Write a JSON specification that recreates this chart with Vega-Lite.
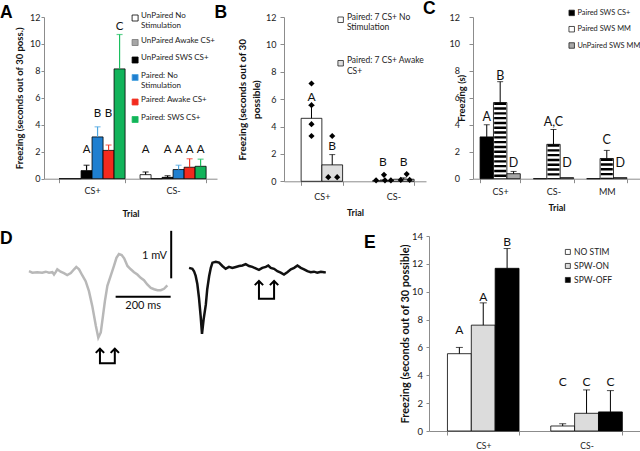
{
  "$schema": "https://vega.github.io/schema/vega-lite/v6.json",
  "padding": 0,
  "background": "white",
  "config": {
    "view": {"stroke": null},
    "font": "Lato",
    "axis": {"grid": false, "domainColor": "#8c8c8c", "tickColor": "#8c8c8c", "labelColor": "#222", "labelFont": "Lato", "labelFontSize": 9, "titleFont": "Lato", "titleFontWeight": "bold", "titleColor": "#111", "titleFontSize": 9.5},
    "legend": {"title": null, "symbolType": "square", "symbolStrokeColor": "#222", "symbolStrokeWidth": 0.8, "labelFont": "Lato", "labelColor": "#222", "padding": 0, "labelOffset": 2},
    "title": {"font": "Liberation Sans", "fontSize": 17.5, "fontWeight": "bold", "anchor": "start", "frame": "group", "color": "black"},
    "text": {"font": "Lato"}
  },
  "datasets": {
    "panelA": [
      {"trial": "CS+", "group": "UnPaired No Stimulation", "value": 0},
      {"trial": "CS+", "group": "UnPaired Awake CS+", "value": 0},
      {"trial": "CS+", "group": "UnPaired SWS CS+", "value": 0.6, "err": 1.0, "ly": 1.94, "letter": "A"},
      {"trial": "CS+", "group": "Paired: No Stimulation", "value": 3.1, "err": 3.85, "ly": 4.58, "letter": "B"},
      {"trial": "CS+", "group": "Paired: Awake CS+", "value": 2.1, "err": 2.5, "ly": 4.58, "letter": "B"},
      {"trial": "CS+", "group": "Paired: SWS CS+", "value": 8.15, "err": 10.7, "ly": 11.0, "letter": "C"},
      {"trial": "CS-", "group": "UnPaired No Stimulation", "value": 0.3, "err": 0.5, "ly": 1.94, "letter": "A"},
      {"trial": "CS-", "group": "UnPaired Awake CS+", "value": 0},
      {"trial": "CS-", "group": "UnPaired SWS CS+", "value": 0.1, "err": 0.22, "ly": 1.94, "letter": "A"},
      {"trial": "CS-", "group": "Paired: No Stimulation", "value": 0.68, "err": 1.0, "ly": 1.94, "letter": "A"},
      {"trial": "CS-", "group": "Paired: Awake CS+", "value": 0.85, "err": 1.48, "ly": 1.94, "letter": "A"},
      {"trial": "CS-", "group": "Paired: SWS CS+", "value": 0.92, "err": 1.45, "ly": 1.94, "letter": "A"}
    ],
    "panelB": [
      {"trial": "CS+", "group": "Paired: 7 CS+ No Stimulation", "value": 4.6, "err": 5.55, "ly": 5.85, "letter": "A"},
      {"trial": "CS+", "group": "Paired: 7 CS+ Awake CS+", "value": 1.2, "err": 1.95, "ly": 2.31, "letter": "B"},
      {"trial": "CS-", "group": "Paired: 7 CS+ No Stimulation", "value": 0.05, "err": 0.1, "ly": 1.12, "letter": "B"},
      {"trial": "CS-", "group": "Paired: 7 CS+ Awake CS+", "value": 0.15, "err": 0.25, "ly": 1.12, "letter": "B"}
    ],
    "panelBpts": [
      {"trial": "CS+", "slot": 10, "value": 7.14},
      {"trial": "CS+", "slot": 10, "value": 5.56},
      {"trial": "CS+", "slot": 10, "value": 4.17},
      {"trial": "CS+", "slot": 10, "value": 3.31},
      {"trial": "CS+", "slot": 31, "value": 3.31},
      {"trial": "CS+", "slot": 27, "value": 0.3},
      {"trial": "CS+", "slot": 36, "value": 0.3},
      {"trial": "CS-", "slot": 3, "value": 0.07},
      {"trial": "CS-", "slot": 11, "value": 0.47},
      {"trial": "CS-", "slot": 12, "value": 0.07},
      {"trial": "CS-", "slot": 18, "value": 0.07},
      {"trial": "CS-", "slot": 28, "value": 0.1},
      {"trial": "CS-", "slot": 34, "value": 0.53},
      {"trial": "CS-", "slot": 37, "value": 0.1}
    ],
    "panelC": [
      {"trial": "CS+", "group": "Paired SWS CS+", "value": 3.1, "err": 4.0, "ly": 4.26, "letter": "A"},
      {"trial": "CS+", "group": "Paired SWS MM", "value": 5.65, "err": 7.2, "ly": 7.3, "letter": "B"},
      {"trial": "CS+", "group": "UnPaired SWS MM", "value": 0.37, "err": 0.54, "ly": 0.9, "letter": "D"},
      {"trial": "CS-", "group": "Paired SWS CS+", "value": 0},
      {"trial": "CS-", "group": "Paired SWS MM", "value": 2.55, "err": 3.65, "ly": 3.94, "letter": "A,C"},
      {"trial": "CS-", "group": "UnPaired SWS MM", "value": 0.08, "ly": 0.9, "letter": "D"},
      {"trial": "MM", "group": "Paired SWS CS+", "value": 0},
      {"trial": "MM", "group": "Paired SWS MM", "value": 1.5, "err": 2.1, "ly": 2.55, "letter": "C"},
      {"trial": "MM", "group": "UnPaired SWS MM", "value": 0.08, "ly": 0.9, "letter": "D"}
    ],
    "panelE": [
      {"trial": "CS+", "group": "NO STIM", "value": 5.55, "err": 6.0, "ly": 6.94, "letter": "A"},
      {"trial": "CS+", "group": "SPW-ON", "value": 7.6, "err": 9.2, "ly": 9.33, "letter": "A"},
      {"trial": "CS+", "group": "SPW-OFF", "value": 11.68, "err": 13.1, "ly": 13.28, "letter": "B"},
      {"trial": "CS-", "group": "NO STIM", "value": 0.36, "err": 0.52, "ly": 3.2, "letter": "C"},
      {"trial": "CS-", "group": "SPW-ON", "value": 1.27, "err": 2.95, "ly": 3.2, "letter": "C"},
      {"trial": "CS-", "group": "SPW-OFF", "value": 1.37, "err": 2.9, "ly": 3.2, "letter": "C"}
    ],
    "grayTrace": [
      {"t": 109, "v": 2.08}, {"t": 121, "v": 2.05}, {"t": 139, "v": 2.06}, {"t": 157, "v": 2.05},
      {"t": 170, "v": 2.07}, {"t": 182, "v": 2.05}, {"t": 194, "v": 2.06}, {"t": 200, "v": 2.01},
      {"t": 206, "v": 2.06}, {"t": 212, "v": 2.12}, {"t": 224, "v": 2.07}, {"t": 236, "v": 2.04},
      {"t": 248, "v": 2.0}, {"t": 261, "v": 2.04}, {"t": 273, "v": 2.12}, {"t": 281, "v": 2.17},
      {"t": 291, "v": 2.12}, {"t": 303, "v": 1.99}, {"t": 315, "v": 1.87}, {"t": 327, "v": 1.66},
      {"t": 339, "v": 1.35}, {"t": 352, "v": 0.93}, {"t": 361, "v": 0.68}, {"t": 370, "v": 0.79},
      {"t": 378, "v": 1.14}, {"t": 385, "v": 1.45}, {"t": 394, "v": 1.77}, {"t": 406, "v": 1.98},
      {"t": 418, "v": 2.19}, {"t": 427, "v": 2.36}, {"t": 436, "v": 2.44}, {"t": 446, "v": 2.42},
      {"t": 455, "v": 2.35}, {"t": 467, "v": 2.19}, {"t": 479, "v": 2.12}, {"t": 491, "v": 2.06},
      {"t": 503, "v": 2.01}, {"t": 515, "v": 1.94}, {"t": 527, "v": 1.89}, {"t": 539, "v": 1.8},
      {"t": 552, "v": 1.73}, {"t": 564, "v": 1.7}, {"t": 576, "v": 1.68}, {"t": 588, "v": 1.68},
      {"t": 600, "v": 1.71}, {"t": 612, "v": 1.78}
    ],
    "blackTrace": [
      {"t": 691, "v": 2.15}, {"t": 703, "v": 2.13}, {"t": 709, "v": 2.08}, {"t": 715, "v": 1.98},
      {"t": 721, "v": 1.81}, {"t": 727, "v": 1.52}, {"t": 733, "v": 1.14}, {"t": 738, "v": 0.76},
      {"t": 744, "v": 1.07}, {"t": 752, "v": 1.38}, {"t": 757, "v": 1.7}, {"t": 764, "v": 1.98},
      {"t": 770, "v": 2.15}, {"t": 776, "v": 2.26}, {"t": 788, "v": 2.28}, {"t": 800, "v": 2.26},
      {"t": 812, "v": 2.19}, {"t": 824, "v": 2.13}, {"t": 836, "v": 2.17}, {"t": 848, "v": 2.15},
      {"t": 861, "v": 2.17}, {"t": 873, "v": 2.19}, {"t": 885, "v": 2.2}, {"t": 897, "v": 2.23},
      {"t": 909, "v": 2.19}, {"t": 921, "v": 2.17}, {"t": 933, "v": 2.14}, {"t": 945, "v": 2.11},
      {"t": 957, "v": 2.15}, {"t": 970, "v": 2.17}, {"t": 979, "v": 2.2}, {"t": 988, "v": 2.15},
      {"t": 1000, "v": 2.13}, {"t": 1012, "v": 2.08}, {"t": 1024, "v": 2.05}, {"t": 1036, "v": 2.01},
      {"t": 1048, "v": 2.06}, {"t": 1061, "v": 2.12}, {"t": 1073, "v": 2.15}, {"t": 1085, "v": 2.2},
      {"t": 1097, "v": 2.15}, {"t": 1109, "v": 2.12}, {"t": 1121, "v": 2.08}, {"t": 1133, "v": 2.06},
      {"t": 1145, "v": 2.07}, {"t": 1157, "v": 2.05}, {"t": 1170, "v": 2.07}, {"t": 1182, "v": 2.06},
      {"t": 1188, "v": 2.05}
    ],
    "scaleBars": [
      {"bar": "1 mV", "t": 626, "t2": 626, "v": 1.93, "v2": 2.93},
      {"bar": "200 ms", "t": 424, "t2": 624, "v": 1.54, "v2": 1.54}
    ],
    "scaleText": [
      {"label": "1 mV", "t": 565, "v": 2.4},
      {"label": "200 ms", "t": 524, "v": 1.35}
    ],
    "arrows": [
      {"arrow": "gray", "order": 1, "head": true, "t": 367, "v": 0.448},
      {"arrow": "gray", "order": 2, "head": false, "t": 367, "v": 0.141},
      {"arrow": "gray", "order": 3, "head": false, "t": 421, "v": 0.141},
      {"arrow": "gray", "order": 4, "head": true, "t": 421, "v": 0.448},
      {"arrow": "black", "order": 1, "head": true, "t": 945, "v": 1.874},
      {"arrow": "black", "order": 2, "head": false, "t": 945, "v": 1.5},
      {"arrow": "black", "order": 3, "head": false, "t": 1000, "v": 1.5},
      {"arrow": "black", "order": 4, "head": true, "t": 1000, "v": 1.874}
    ]
  },
  "resolve": {
    "scale": {"x": "independent", "y": "independent", "xOffset": "independent", "color": "independent", "stroke": "independent", "fill": "independent"},
    "legend": {"color": "independent"}
  },
  "vconcat": [
    {
      "resolve": {
        "scale": {"x": "independent", "y": "independent", "xOffset": "independent", "color": "independent", "stroke": "independent", "fill": "independent"},
        "legend": {"color": "independent"}
      },
      "hconcat": [
        {
          "width": 173,
          "height": 161.7,
          "title": {"text": "A", "dx": -44, "offset": -8.5},
          "data": {"name": "panelA"},
          "encoding": {
            "x": {"field": "trial", "type": "nominal", "sort": ["CS+", "CS-"],
              "scale": {"paddingInner": 0.185, "paddingOuter": 0.16, "align": 0.58},
              "axis": {"title": "Trial", "labelAngle": 0, "tickBand": "extent", "tickSize": 4, "labelPadding": 4, "titlePadding": 14, "titleFontSize": 9}},
            "xOffset": {"field": "group", "type": "nominal",
              "scale": {"domain": ["UnPaired No Stimulation", "UnPaired Awake CS+", "UnPaired SWS CS+", "Paired: No Stimulation", "Paired: Awake CS+", "Paired: SWS CS+"]}},
            "y": {"field": "value", "type": "quantitative", "scale": {"domain": [0, 12]},
              "axis": {"title": "Freezing (seconds out of 30 poss.)", "values": [0, 2, 4, 6, 8, 10, 12], "tickSize": 3, "labelPadding": 1, "titlePadding": 5}}
          },
          "layer": [
            {
              "mark": {"type": "bar", "stroke": "black", "strokeWidth": 0.8},
              "encoding": {
                "color": {"field": "group", "type": "nominal",
                  "scale": {"domain": ["UnPaired No Stimulation", "UnPaired Awake CS+", "UnPaired SWS CS+", "Paired: No Stimulation", "Paired: Awake CS+", "Paired: SWS CS+"],
                    "range": ["white", "#a6a6a6", "black", "#1f7fd0", "#f42a1e", "#12b35a"]},
                  "legend": {"orient": "none", "legendX": 87.1, "legendY": -3, "symbolSize": 36, "labelFontSize": 8, "rowPadding": 6.5, "labelBaseline": "alphabetic",
                    "labelExpr": "datum.label == 'UnPaired No Stimulation' ? ['UnPaired No', 'Stimulation'] : datum.label == 'Paired: No Stimulation' ? ['Paired: No', 'Stimulation'] : datum.label"}}
              }
            },
            {
              "transform": [{"filter": "isValid(datum.err)"}],
              "mark": {"type": "rule", "strokeWidth": 1.2},
              "encoding": {
                "y2": {"field": "err"},
                "stroke": {"field": "group", "type": "nominal", "legend": null,
                  "scale": {"domain": ["UnPaired No Stimulation", "UnPaired Awake CS+", "UnPaired SWS CS+", "Paired: No Stimulation", "Paired: Awake CS+", "Paired: SWS CS+"],
                    "range": ["black", "#777777", "black", "#4ea6e0", "#f03a2a", "#1cbf60"]}}
              }
            },
            {
              "transform": [{"filter": "isValid(datum.err)"}],
              "mark": {"type": "tick", "thickness": 1.2, "size": 6},
              "encoding": {
                "y": {"field": "err", "type": "quantitative", "title": "Freezing (seconds out of 30 poss.)"},
                "fill": {"field": "group", "type": "nominal", "legend": null,
                  "scale": {"domain": ["UnPaired No Stimulation", "UnPaired Awake CS+", "UnPaired SWS CS+", "Paired: No Stimulation", "Paired: Awake CS+", "Paired: SWS CS+"],
                    "range": ["black", "#777777", "black", "#4ea6e0", "#f03a2a", "#1cbf60"]}}
              }
            },
            {
              "transform": [{"filter": "isValid(datum.letter)"}],
              "mark": {"type": "text", "fontSize": 11.5, "baseline": "alphabetic", "color": "#111"},
              "encoding": {
                "y": {"field": "ly", "type": "quantitative", "title": "Freezing (seconds out of 30 poss.)"},
                "text": {"field": "letter"}
              }
            }
          ]
        },
        {
          "width": 142,
          "height": 164.3,
          "title": {"text": "B", "dx": -69.5, "offset": -8.5},
          "data": {"name": "panelB"},
          "resolve": {"scale": {"xOffset": "independent"}},
          "encoding": {
            "x": {"field": "trial", "type": "nominal", "sort": ["CS+", "CS-"],
              "scale": {"paddingInner": 0.42, "paddingOuter": 0.203, "align": 0.59},
              "axis": {"title": "Trial", "labelAngle": 0, "tickBand": "extent", "tickSize": 4, "labelPadding": 7, "titlePadding": 6.7, "titleFontSize": 9}},
            "y": {"field": "value", "type": "quantitative", "scale": {"domain": [0, 12]},
              "axis": {"title": ["Freezing  (seconds out of 30", "possible)"], "titleLineHeight": 14, "titleFontSize": 10, "values": [0, 2, 4, 6, 8, 10, 12], "tickSize": 4, "labelPadding": 4, "titlePadding": 4}}
          },
          "layer": [
            {
              "mark": {"type": "bar", "stroke": "black", "strokeWidth": 0.8},
              "encoding": {
                "xOffset": {"field": "group", "type": "nominal", "scale": {"domain": ["Paired: 7 CS+ No Stimulation", "Paired: 7 CS+ Awake CS+"]}},
                "color": {"field": "group", "type": "nominal",
                  "scale": {"domain": ["Paired: 7 CS+ No Stimulation", "Paired: 7 CS+ Awake CS+"], "range": ["white", "#dedede"]},
                  "legend": {"orient": "none", "legendX": 52.4, "legendY": -1.5, "symbolSize": 30, "labelFontSize": 8.5, "rowPadding": 23.5, "labelBaseline": "alphabetic",
                    "labelExpr": "datum.label == 'Paired: 7 CS+ No Stimulation' ? ['Paired: 7 CS+ No', 'Stimulation'] : ['Paired: 7 CS+ Awake', 'CS+']"}}
              }
            },
            {
              "mark": {"type": "rule", "strokeWidth": 1, "color": "black"},
              "encoding": {
                "xOffset": {"field": "group", "type": "nominal", "scale": {"domain": ["Paired: 7 CS+ No Stimulation", "Paired: 7 CS+ Awake CS+"]}},
                "y2": {"field": "err"}
              }
            },
            {
              "mark": {"type": "tick", "thickness": 1, "size": 6, "color": "black"},
              "encoding": {
                "xOffset": {"field": "group", "type": "nominal", "scale": {"domain": ["Paired: 7 CS+ No Stimulation", "Paired: 7 CS+ Awake CS+"]}},
                "y": {"field": "err", "type": "quantitative", "title": ["Freezing  (seconds out of 30", "possible)"]}
              }
            },
            {
              "data": {"name": "panelBpts"},
              "mark": {"type": "point", "shape": "diamond", "filled": true, "color": "black", "size": 38, "opacity": 1},
              "encoding": {
                "xOffset": {"field": "slot", "type": "ordinal", "scale": {"domain": [0, 1, 2, 3, 4, 5, 6, 7, 8, 9, 10, 11, 12, 13, 14, 15, 16, 17, 18, 19, 20, 21, 22, 23, 24, 25, 26, 27, 28, 29, 30, 31, 32, 33, 34, 35, 36, 37, 38, 39, 40, 41]}}
              }
            },
            {
              "mark": {"type": "text", "fontSize": 12, "baseline": "alphabetic", "color": "#111"},
              "encoding": {
                "xOffset": {"field": "group", "type": "nominal", "scale": {"domain": ["Paired: 7 CS+ No Stimulation", "Paired: 7 CS+ Awake CS+"]}},
                "y": {"field": "ly", "type": "quantitative", "title": ["Freezing  (seconds out of 30", "possible)"]},
                "text": {"field": "letter"}
              }
            }
          ]
        },
        {
          "width": 167,
          "height": 161.7,
          "title": {"text": "C", "dx": -50, "offset": -8.5},
          "data": {"name": "panelC"},
          "encoding": {
            "x": {"field": "trial", "type": "nominal", "sort": ["CS+", "CS-", "MM"],
              "scale": {"paddingInner": 0.245, "paddingOuter": 0.189, "align": 0.35},
              "axis": {"title": "Trial", "labelAngle": 0, "tickBand": "extent", "tickSize": 4, "labelPadding": 4.5, "titlePadding": 7.3, "titleFontSize": 9}},
            "xOffset": {"field": "group", "type": "nominal", "scale": {"domain": ["Paired SWS CS+", "Paired SWS MM", "UnPaired SWS MM"]}},
            "y": {"field": "value", "type": "quantitative", "scale": {"domain": [0, 12]},
              "axis": {"title": "Freezing (s)", "values": [0, 2, 4, 6, 8, 10, 12], "tickSize": 4, "labelPadding": 9.5, "titlePadding": -17.5}}
          },
          "layer": [
            {
              "mark": {"type": "bar", "stroke": "black", "strokeWidth": 0.8},
              "encoding": {
                "color": {"field": "group", "type": "nominal",
                  "scale": {"domain": ["Paired SWS CS+", "Paired SWS MM", "UnPaired SWS MM"], "range": ["black", "white", "#a8a8a8"]},
                  "legend": {"orient": "none", "legendX": 95, "legendY": -7.8, "symbolSize": 30, "labelFontSize": 7.4, "rowPadding": 6.3}}
              }
            },
            {
              "transform": [{"filter": "datum.group == 'Paired SWS MM'"}],
              "mark": {"type": "rule", "strokeWidth": 12, "color": "black", "strokeCap": "butt", "strokeDash": [2.4, 2.4]},
              "encoding": {"y2": {"datum": 0}}
            },
            {
              "transform": [{"filter": "isValid(datum.err)"}],
              "mark": {"type": "rule", "strokeWidth": 1, "color": "black"},
              "encoding": {"y2": {"field": "err"}}
            },
            {
              "transform": [{"filter": "isValid(datum.err)"}],
              "mark": {"type": "tick", "thickness": 1, "size": 6, "color": "black"},
              "encoding": {"y": {"field": "err", "type": "quantitative", "title": "Freezing (s)"}}
            },
            {
              "transform": [{"filter": "isValid(datum.letter)"}],
              "mark": {"type": "text", "fontSize": 12.5, "baseline": "alphabetic", "color": "#111"},
              "encoding": {
                "y": {"field": "ly", "type": "quantitative", "title": "Freezing (s)"},
                "text": {"field": "letter"}
              }
            }
          ]
        }
      ],
      "spacing": -3
    },
    {
      "resolve": {
        "scale": {"x": "independent", "y": "independent", "xOffset": "independent", "color": "independent", "stroke": "independent", "fill": "independent"},
        "legend": {"color": "independent"}
      },
      "hconcat": [
        {
          "width": 295,
          "height": 134,
          "title": {"text": "D", "dx": -44, "offset": -17.3},
          "encoding": {
            "x": {"field": "t", "type": "quantitative", "scale": {"domain": [163.6, 1236], "nice": false, "zero": false}, "axis": null},
            "y": {"field": "v", "type": "quantitative", "scale": {"domain": [0, 2.821], "nice": false, "zero": false}, "axis": null}
          },
          "layer": [
            {
              "data": {"name": "grayTrace"},
              "mark": {"type": "line", "color": "#b8b8b8", "strokeWidth": 2.5}
            },
            {
              "data": {"name": "blackTrace"},
              "mark": {"type": "line", "color": "#111", "strokeWidth": 2.5}
            },
            {
              "data": {"name": "scaleBars"},
              "mark": {"type": "rule", "color": "black", "strokeWidth": 2},
              "encoding": {"x2": {"field": "t2"}, "y2": {"field": "v2"}}
            },
            {
              "data": {"name": "arrows"},
              "mark": {"type": "line", "color": "black", "strokeWidth": 2, "strokeJoin": "miter"},
              "encoding": {"detail": {"field": "arrow"}, "order": {"field": "order"}}
            },
            {
              "data": {"name": "arrows"},
              "transform": [{"filter": "datum.head"}],
              "mark": {"type": "point", "shape": "M-1,1L0,0L1,1", "filled": false, "color": "black", "strokeWidth": 2, "size": 70, "opacity": 1}
            },
            {
              "data": {"name": "scaleText"},
              "mark": {"type": "text", "fontSize": 11, "align": "center", "baseline": "middle", "color": "#111"},
              "encoding": {"text": {"field": "label"}}
            }
          ]
        },
        {
          "width": 215,
          "height": 195,
          "title": {"text": "E", "dx": -65, "offset": -20.7},
          "data": {"name": "panelE"},
          "encoding": {
            "x": {"field": "trial", "type": "nominal", "sort": ["CS+", "CS-"],
              "scale": {"paddingInner": 0.307, "paddingOuter": 0.194, "align": 0.46},
              "axis": {"title": null, "labelAngle": 0, "tickBand": "extent", "tickSize": 4, "labelPadding": 6, "labelFontSize": 8.5}},
            "xOffset": {"field": "group", "type": "nominal", "scale": {"domain": ["NO STIM", "SPW-ON", "SPW-OFF"]}},
            "y": {"field": "value", "type": "quantitative", "scale": {"domain": [0, 14]},
              "axis": {"title": "Freezing  (seconds out of 30 possible)", "titleFontSize": 11, "values": [0, 2, 4, 6, 8, 10, 12, 14], "labelFontSize": 9.5, "tickSize": 3, "labelPadding": 3.5, "titlePadding": 1}}
          },
          "layer": [
            {
              "mark": {"type": "bar", "stroke": "black", "strokeWidth": 0.8},
              "encoding": {
                "color": {"field": "group", "type": "nominal",
                  "scale": {"domain": ["NO STIM", "SPW-ON", "SPW-OFF"], "range": ["white", "#dcdcdc", "black"]},
                  "legend": {"orient": "none", "legendX": 134.6, "legendY": 11.7, "symbolSize": 25, "labelFontSize": 8.5, "rowPadding": 5}}
              }
            },
            {
              "mark": {"type": "rule", "strokeWidth": 1, "color": "black"},
              "encoding": {"y2": {"field": "err"}}
            },
            {
              "mark": {"type": "tick", "thickness": 1, "size": 7, "color": "black"},
              "encoding": {"y": {"field": "err", "type": "quantitative", "title": "Freezing  (seconds out of 30 possible)"}}
            },
            {
              "mark": {"type": "text", "fontSize": 12, "baseline": "alphabetic", "color": "#111"},
              "encoding": {
                "y": {"field": "ly", "type": "quantitative", "title": "Freezing  (seconds out of 30 possible)"},
                "text": {"field": "letter"}
              }
            }
          ]
        }
      ],
      "spacing": 25
    }
  ],
  "spacing": 10
}
